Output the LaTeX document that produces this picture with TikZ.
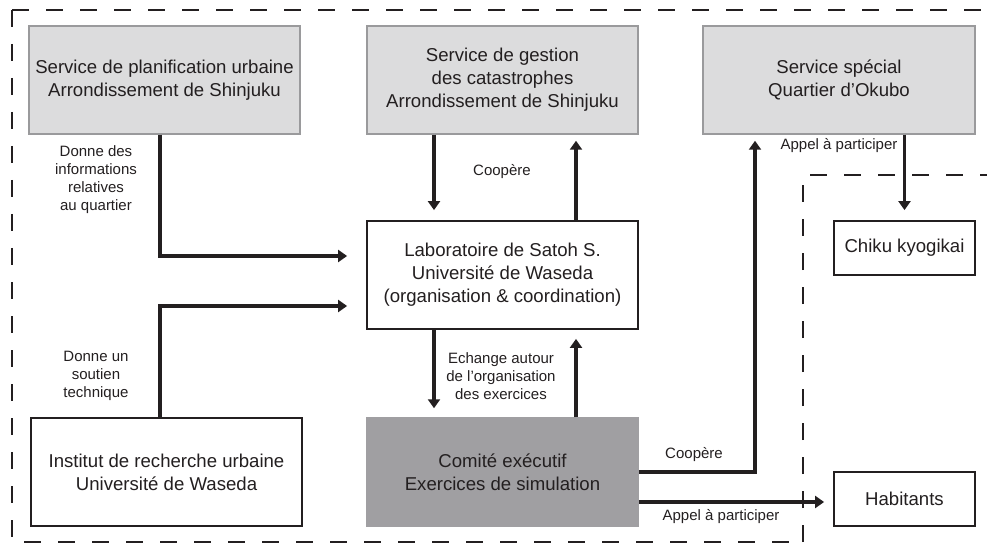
\documentclass[tikz,border=0pt]{standalone}
\usepackage{fontspec}
\setmainfont{Liberation Sans}
\usetikzlibrary{arrows.meta}
\definecolor{lightbox}{HTML}{DCDCDD}
\definecolor{lightborder}{HTML}{9A9A9C}
\definecolor{darkbox}{HTML}{A09FA2}
\definecolor{ink}{HTML}{231F20}
\tikzset{
  boxbase/.style={rectangle, inner sep=0pt, align=center, font=\fontsize{18.6}{23}\selectfont, text=ink},
  graybox/.style={boxbase, fill=lightbox, draw=lightborder, line width=1.5pt, minimum width=271pt, minimum height=108pt},
  whitebox/.style={boxbase, fill=white, draw=ink, line width=1.8pt, minimum width=271pt, minimum height=108pt},
  darkgraybox/.style={boxbase, fill=darkbox, draw=darkbox, line width=1.5pt, minimum width=271pt, minimum height=108pt},
  smallbox/.style={boxbase, fill=white, draw=ink, line width=1.8pt, minimum width=141pt, minimum height=54pt},
  flow/.style={draw=ink, line width=3.9pt, -{Triangle[length=9pt,width=12pt]}},
  lbl/.style={inner sep=0pt, align=center, font=\fontsize{15}{18}\selectfont, text=ink},
  region/.style={draw=ink, line width=1.3pt, dash pattern=on 17pt off 17pt}
}
\begin{document}
\begin{tikzpicture}[x=1pt,y=-1pt]
\useasboundingbox (0,0) rectangle (987,545);
% dashed region
\draw[region] (12,10) -- (987,10);
\draw[region] (12,10) -- (12,542) -- (803,542);
\draw[region] (803,542) -- (803,175) -- (987,175);

% boxes
\node[graybox] (plan) at (164.5,80) {Service de planification urbaine\\Arrondissement de Shinjuku};
\node[graybox] (gest) at (502.5,80) {Service de gestion\\des catastrophes\\Arrondissement de Shinjuku};
\node[graybox, minimum width=272pt] (spec) at (839,80) {Service spécial\\Quartier d’Okubo};
\node[whitebox] (lab) at (502.5,275) {Laboratoire de Satoh S.\\Université de Waseda\\(organisation \& coordination)};
\node[smallbox] (chiku) at (904.5,248) {Chiku kyogikai};
\node[whitebox] (inst) at (166.5,472) {Institut de recherche urbaine\\Université de Waseda};
\node[darkgraybox] (comite) at (502.5,472) {Comité exécutif\\Exercices de simulation};
\node[smallbox] (hab) at (904.5,499) {Habitants};

% connectors
\draw[flow, shorten >=19pt] ([xshift=-4.5pt]plan.south) |- ([yshift=19pt]lab.west);
\draw[flow, shorten >=19pt] ([xshift=-6.5pt]inst.north) |- ([yshift=-31pt]lab.west);
\draw[flow, shorten >=10pt] ([xshift=-68.5pt]gest.south) -- ([xshift=-68.5pt]lab.north);
\draw[flow, shorten >=6pt] ([xshift=73.5pt]lab.north) -- ([xshift=73.5pt]gest.south);
\draw[flow, shorten >=9pt] ([xshift=-68.5pt]lab.south) -- ([xshift=-68.5pt]comite.north);
\draw[flow, shorten >=9pt] ([xshift=73.5pt]comite.north) -- ([xshift=73.5pt]lab.south);
\draw[flow, shorten >=6pt] (comite.east) -| ([xshift=-84pt]spec.south);
\draw[flow, shorten >=9pt] ([yshift=-30pt]comite.east) -- ([yshift=-30pt]comite.east -| hab.west);
\draw[flow, shorten >=10pt] (spec.south -| chiku.north) -- (chiku.north);

% labels
\node[lbl] (l1) at (96,180) {Donne des\\informations\\relatives\\au quartier};
\node[lbl] (l2) at (502,172) {Coopère};
\node[lbl] (l3) at (96,376) {Donne un\\soutien\\technique};
\node[lbl] (l4) at (501,376) {Echange autour\\de l’organisation\\des exercices};
\node[lbl] (l5) at (839,146) {Appel à participer};
\node[lbl] (l6) at (694,455) {Coopère};
\node[lbl] (l7) at (721,517) {Appel à participer};
\end{tikzpicture}
\end{document}
